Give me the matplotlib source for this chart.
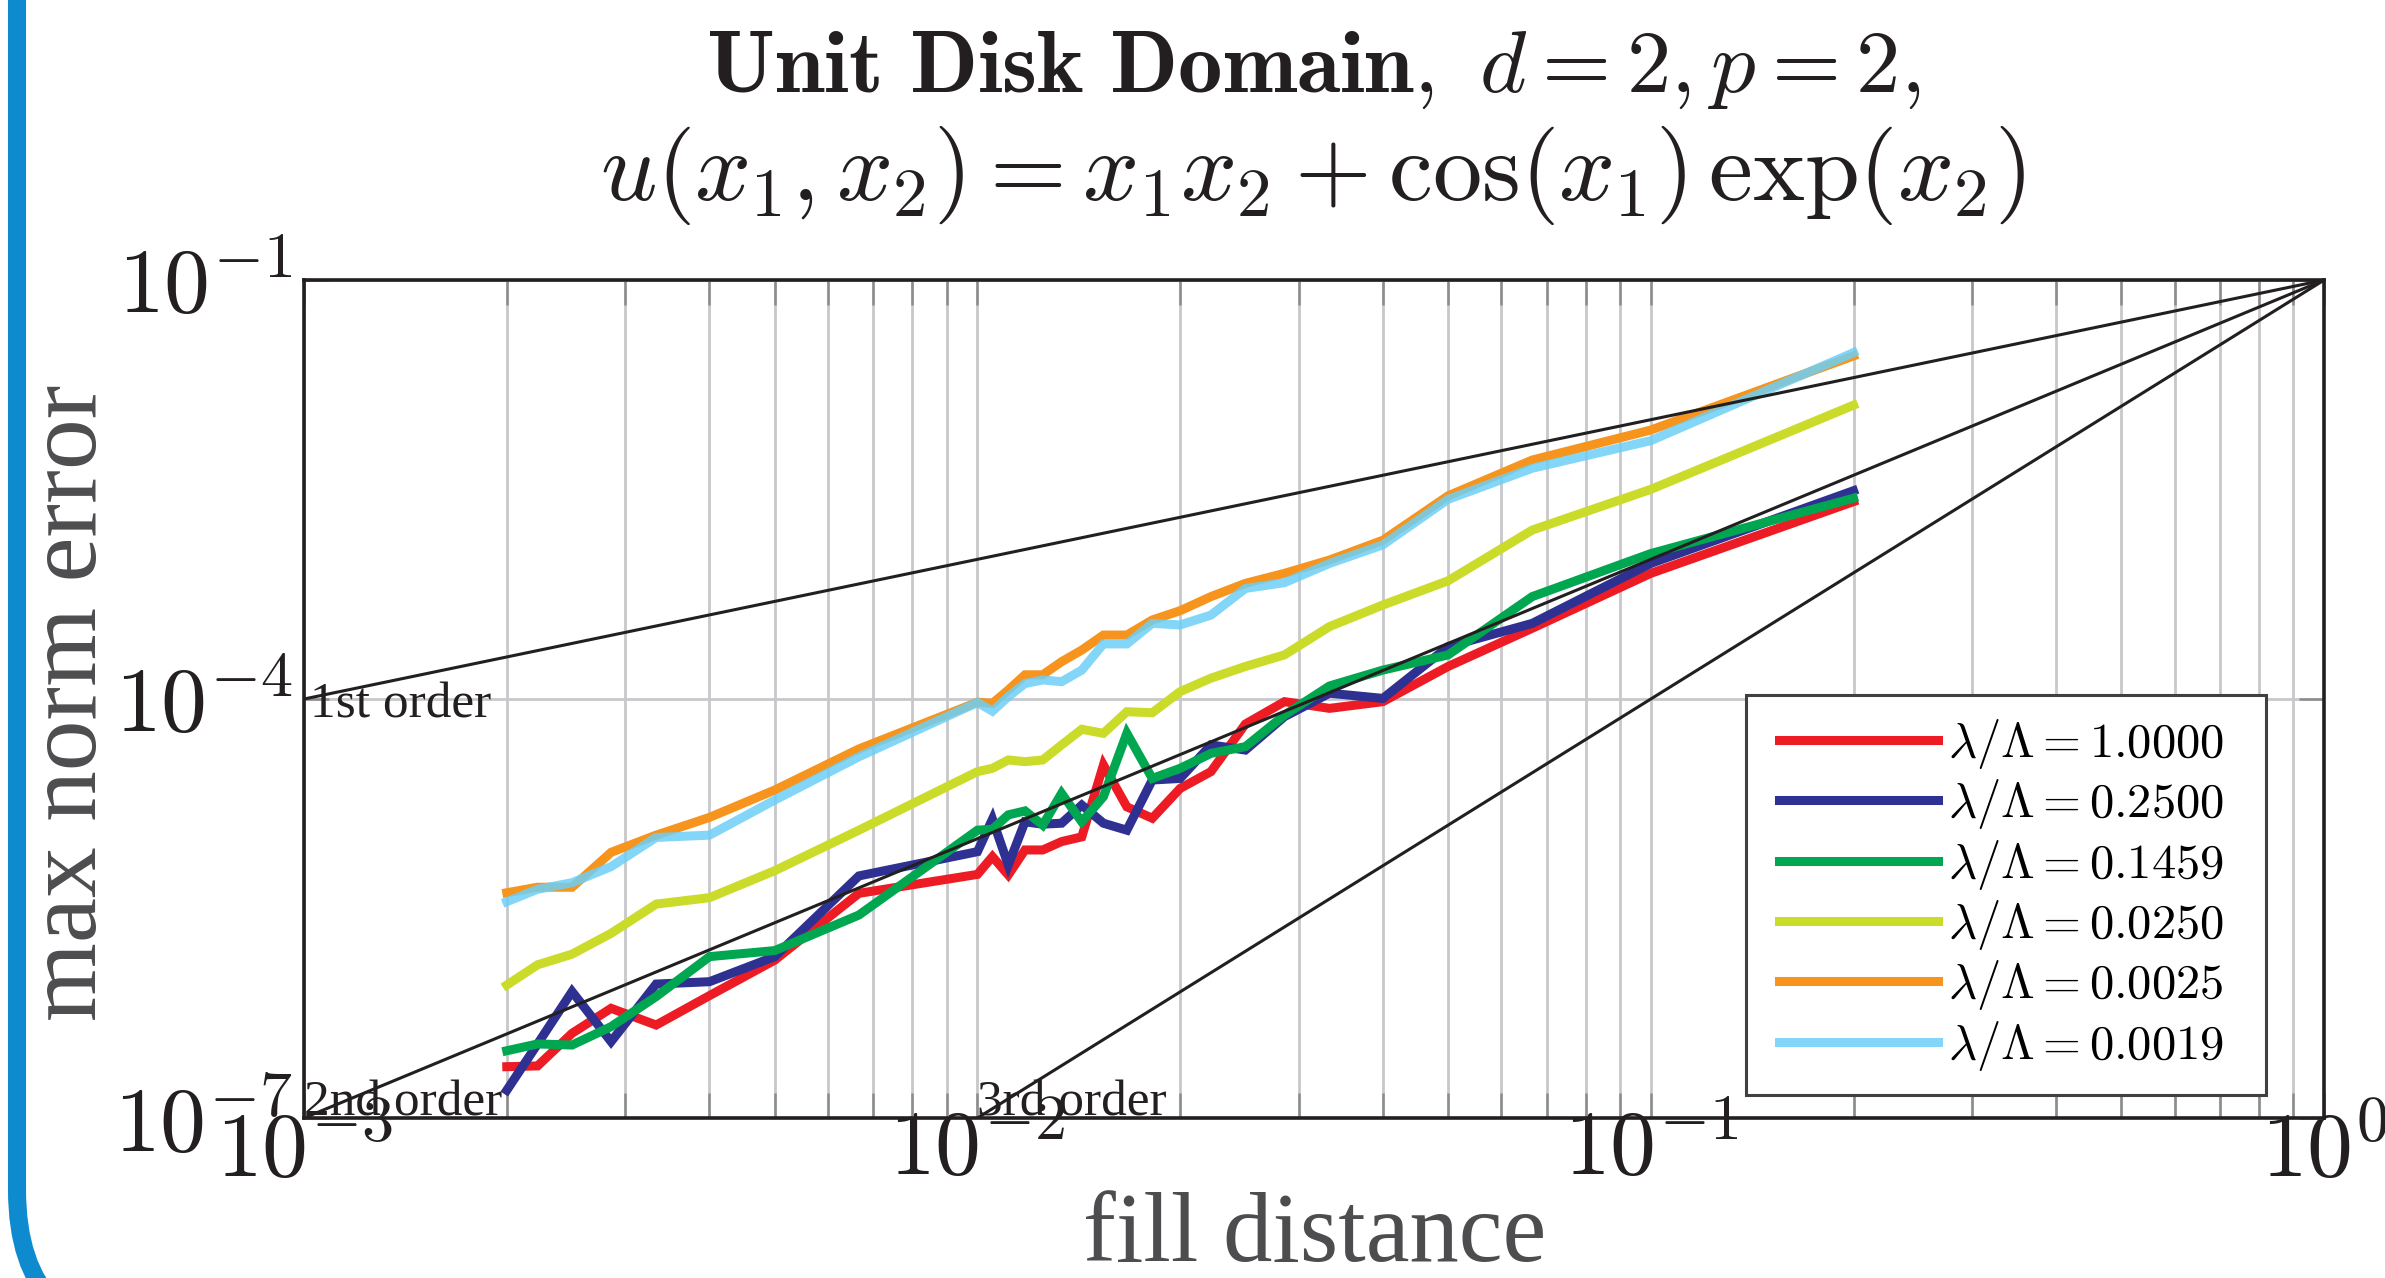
import matplotlib
matplotlib.use('Agg')
import matplotlib.pyplot as plt
from matplotlib.patches import FancyBboxPatch, Rectangle
from matplotlib.transforms import IdentityTransform
from matplotlib.ticker import FixedLocator, FixedFormatter, NullLocator, NullFormatter

# ---------------- data ----------------
fill_distance = [0.002, 0.002222, 0.0025, 0.002857, 0.003333, 0.004, 0.005, 0.006667,
                 0.01, 0.010526, 0.011111, 0.011765, 0.0125, 0.013333, 0.014286, 0.015385,
                 0.016667, 0.018182, 0.02, 0.022222, 0.025, 0.028571, 0.033333, 0.04,
                 0.05, 0.066667, 0.1, 0.2]

err_10000 = [2.33e-7, 2.36e-7, 4.04e-7, 6.10e-7, 4.63e-7, 7.52e-7, 1.35e-6, 4.06e-6,
             5.55e-6, 7.43e-6, 5.50e-6, 8.30e-6, 8.30e-6, 9.53e-6, 1.03e-5, 3.37e-5,
             1.69e-5, 1.40e-5, 2.29e-5, 3.02e-5, 6.62e-5, 9.57e-5, 8.57e-5, 9.57e-5,
             1.71e-4, 3.21e-4, 7.94e-4, 2.59e-3]
err_02500 = [1.58e-7, 3.39e-7, 8.04e-7, 3.52e-7, 9.10e-7, 9.46e-7, 1.43e-6, 5.41e-6,
             8.07e-6, 1.38e-5, 6.47e-6, 1.32e-5, 1.27e-5, 1.29e-5, 1.74e-5, 1.29e-5,
             1.15e-5, 2.63e-5, 2.70e-5, 4.69e-5, 4.31e-5, 7.48e-5, 1.10e-4, 1.01e-4,
             2.37e-4, 3.48e-4, 9.35e-4, 3.10e-3]
err_01459 = [3.03e-7, 3.39e-7, 3.33e-7, 4.51e-7, 7.40e-7, 1.43e-6, 1.58e-6, 2.84e-6,
             1.15e-5, 1.17e-5, 1.48e-5, 1.58e-5, 1.25e-5, 2.11e-5, 1.32e-5, 2.00e-5,
             5.68e-5, 2.70e-5, 3.19e-5, 4.08e-5, 4.56e-5, 7.67e-5, 1.24e-4, 1.61e-4,
             2.07e-4, 5.41e-4, 1.10e-3, 2.74e-3]
err_00250 = [8.95e-7, 1.25e-6, 1.49e-6, 2.10e-6, 3.40e-6, 3.78e-6, 5.90e-6, 1.15e-5,
             3.02e-5, 3.19e-5, 3.66e-5, 3.56e-5, 3.66e-5, 4.69e-5, 6.07e-5, 5.68e-5,
             8.11e-5, 7.98e-5, 1.13e-4, 1.41e-4, 1.71e-4, 2.07e-4, 3.30e-4, 4.71e-4,
             7.02e-4, 1.62e-3, 3.17e-3, 1.27e-2]
err_00025 = [4.10e-6, 4.49e-6, 4.49e-6, 7.98e-6, 1.06e-5, 1.42e-5, 2.23e-5, 4.39e-5,
             9.48e-5, 9.31e-5, 1.16e-4, 1.49e-4, 1.49e-4, 1.85e-4, 2.24e-4, 2.87e-4,
             2.87e-4, 3.68e-4, 4.29e-4, 5.41e-4, 6.73e-4, 7.94e-4, 9.89e-4, 1.37e-3,
             2.85e-3, 5.14e-3, 8.43e-3, 2.86e-2]
err_00019 = [3.54e-6, 4.34e-6, 4.84e-6, 6.31e-6, 1.02e-5, 1.06e-5, 1.89e-5, 3.86e-5,
             9.44e-5, 8.18e-5, 1.04e-4, 1.29e-4, 1.37e-4, 1.33e-4, 1.61e-4, 2.48e-4,
             2.48e-4, 3.48e-4, 3.39e-4, 3.99e-4, 6.19e-4, 6.81e-4, 9.35e-4, 1.27e-3,
             2.69e-3, 4.49e-3, 7.08e-3, 3.02e-2]

series_labels = [r'$\lambda/\Lambda = 1.0000$', r'$\lambda/\Lambda = 0.2500$',
                 r'$\lambda/\Lambda = 0.1459$', r'$\lambda/\Lambda = 0.0250$',
                 r'$\lambda/\Lambda = 0.0025$', r'$\lambda/\Lambda = 0.0019$']
series_values = [err_10000, err_02500, err_01459, err_00250, err_00025, err_00019]

# reference convergence lines (endpoints)
ref_labels = ['1st order', '2nd order', '3rd order']
ref_x = [[1e-3, 1.0], [1e-3, 1.0], [1e-2, 1.0]]
ref_y = [[1e-4, 1e-1], [1e-7, 1e-1], [1e-7, 1e-1]]

xtick_values = [1e-3, 1e-2, 1e-1, 1e0]
xtick_labels = [r'$10^{-3}$', r'$10^{-2}$', r'$10^{-1}$', r'$10^{0}$']
ytick_values = [1e-7, 1e-4, 1e-1]
ytick_labels = [r'$10^{-7}$', r'$10^{-4}$', r'$10^{-1}$']

# ---------------- style ----------------
colors = ['#ED1C24', '#2E3192', '#00A650', '#CBDB2A', '#F7941D', '#6DCFF6']
alphas = [1, 1, 1, 1, 1, 0.85]

plt.rcParams['mathtext.fontset'] = 'cm'
plt.rcParams['font.family'] = ['Liberation Serif', 'DejaVu Serif']
plt.rcParams['axes.unicode_minus'] = False

fig = plt.figure(figsize=(23.85, 12.78), dpi=100)
ax = fig.add_axes([0.1275, 0.1252, 0.8470, 0.6557])
ax.set_xscale('log')
ax.set_yscale('log')
ax.set_xlim(1e-3, 1e0)
ax.set_ylim(1e-7, 1e-1)

# grid
ax.set_axisbelow(True)
minor_x = [m * 10.0 ** e for e in (-3, -2, -1) for m in range(2, 10)]
ax.xaxis.set_major_locator(FixedLocator(xtick_values))
ax.xaxis.set_major_formatter(FixedFormatter(xtick_labels))
ax.xaxis.set_minor_locator(FixedLocator(minor_x))
ax.xaxis.set_minor_formatter(NullFormatter())
ax.yaxis.set_major_locator(FixedLocator(ytick_values))
ax.yaxis.set_major_formatter(FixedFormatter(ytick_labels))
ax.yaxis.set_minor_locator(NullLocator())
ax.grid(True, which='both', axis='x', color='#C8C8CA', linewidth=2.0)
ax.grid(True, which='major', axis='y', color='#C8C8CA', linewidth=2.0)

ax.tick_params(which='both', direction='in', top=True, right=True,
               color='#8C8C90', width=1.8)
ax.tick_params(which='major', length=18, labelsize=66, labelcolor='#231F20')
ax.tick_params(which='minor', length=18)
ax.tick_params(axis='x', which='major', pad=-6)
ax.tick_params(axis='y', which='major', pad=8)

for sp in ax.spines.values():
    sp.set_linewidth(2.6)
    sp.set_color('#231F20')

# data lines
for vals, lab, c, a in zip(series_values, series_labels, colors, alphas):
    ax.plot(fill_distance, vals, color=c, lw=6.5, alpha=a, label=lab,
            solid_joinstyle='miter', zorder=2)

# reference lines
for rx, ry in zip(ref_x, ref_y):
    ax.plot(rx, ry, color='#231F20', lw=2.2, zorder=3)

ax.annotate(ref_labels[0], xy=(ref_x[0][0], ref_y[0][0]), xytext=(4, -13),
            textcoords='offset points', ha='left', va='baseline', fontsize=37,
            color='#231F20', zorder=4)
ax.annotate(ref_labels[1], xy=(ref_x[1][0], ref_y[1][0]), xytext=(0, 2),
            textcoords='offset points', ha='left', va='baseline', fontsize=37,
            color='#231F20', zorder=4)
ax.annotate(ref_labels[2], xy=(ref_x[2][0], ref_y[2][0]), xytext=(0, 2),
            textcoords='offset points', ha='left', va='baseline', fontsize=37,
            color='#231F20', zorder=4)

# legend: frame drawn as a box, entries placed inside it
legend_box = Rectangle((0.7139, 0.0274), 0.2574, 0.4773, transform=ax.transAxes,
                       facecolor='white', edgecolor='#404040', linewidth=2.2,
                       zorder=5)
ax.add_patch(legend_box)
leg = ax.legend(loc='upper left', bbox_to_anchor=(0.7302, 0.4785), fontsize=35,
                frameon=False, handlelength=3.27, handletextpad=0.2,
                labelspacing=0.13, borderpad=0, borderaxespad=0)
leg.set_zorder(6)

# axis labels
ax.set_xlabel('fill distance', fontsize=71, color='#4D4D4F')
ax.xaxis.set_label_coords(0.5, -0.088)
ax.set_ylabel('max norm error', fontsize=73, color='#4D4D4F')
ax.yaxis.set_label_coords(-0.092, 0.495)

# title (two lines)
fig.text(0.5505, 1 - 92 / 1278, r'$\mathbf{Unit\ Disk\ Domain,}\ d = 2, p = 2,$',
         ha='center', va='baseline', fontsize=64, color='#231F20')
fig.text(0.5505, 1 - 200 / 1278, r'$u(x_1, x_2) = x_1 x_2 + \cos(x_1)\,\exp(x_2)$',
         ha='center', va='baseline', fontsize=71, color='#231F20')

# blue rounded frame at the left edge
frame = FancyBboxPatch((17, -64), 6000, 4000,
                       boxstyle='round,pad=0,rounding_size=152',
                       transform=IdentityTransform(), fill=False,
                       edgecolor='#0E8BCE', linewidth=13, clip_on=False)
fig.add_artist(frame)

fig.savefig('out.png', dpi=100)
